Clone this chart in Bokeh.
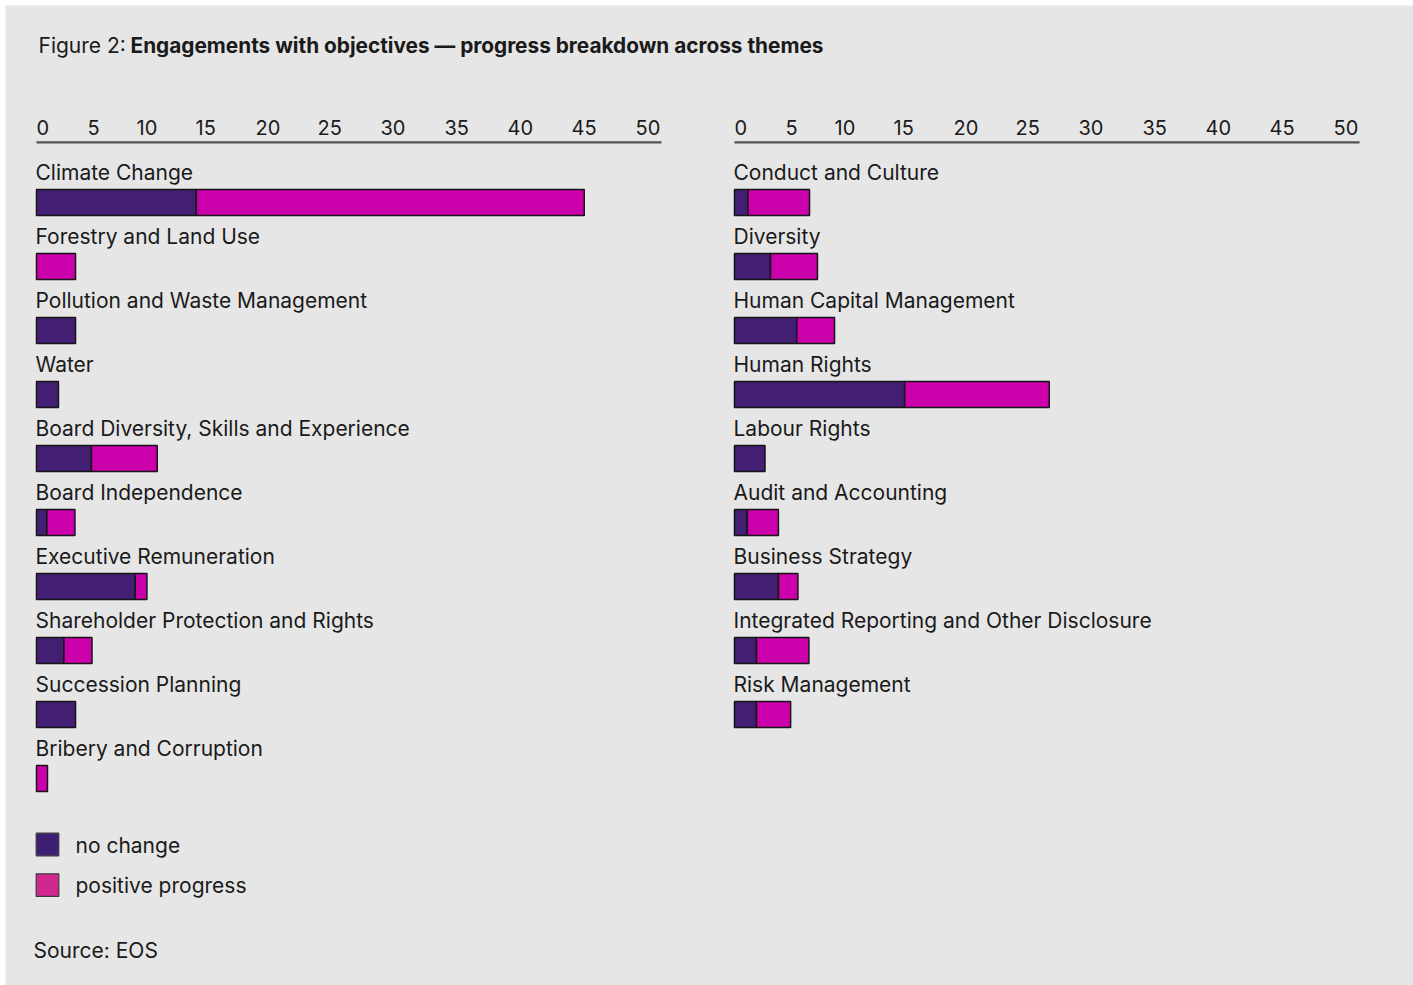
from bokeh.plotting import figure
from bokeh.models import Range1d, ColumnDataSource
from bokeh.core.properties import value
from bokeh.embed import file_html
from bokeh.resources import INLINE

# ---------------- data ----------------
left_themes = ["Climate Change", "Forestry and Land Use", "Pollution and Waste Management",
               "Water", "Board Diversity, Skills and Experience", "Board Independence",
               "Executive Remuneration", "Shareholder Protection and Rights",
               "Succession Planning", "Bribery and Corruption"]
left_no_change = [13.1, 0, 3.2, 1.8, 4.5, 0.85, 8.1, 2.25, 3.2, 0]
left_positive = [31.8, 3.2, 0, 0, 5.4, 2.3, 0.95, 2.3, 0, 0.9]

right_themes = ["Conduct and Culture", "Diversity", "Human Capital Management",
                "Human Rights", "Labour Rights", "Audit and Accounting",
                "Business Strategy", "Integrated Reporting and Other Disclosure",
                "Risk Management"]
right_no_change = [1.1, 2.95, 5.1, 13.95, 2.5, 1.05, 3.6, 1.8, 1.8]
right_positive = [5.05, 3.85, 3.1, 11.85, 0, 2.55, 1.6, 4.3, 2.8]

tick_labels = ["0", "5", "10", "15", "20", "25", "30", "35", "40", "45", "50"]
series_names = ["no change", "positive progress"]
bar_colors = ["#421f73", "#cc00aa"]
legend_colors = ["#3f1f73", "#d0288f"]

title_plain = "Figure 2:"
title_bold = "Engagements with objectives \u2014 progress breakdown across themes"
source_note = "Source: EOS"

# ---------------- layout / styles ----------------
W, H = 1413, 985
FONT = value("Inter")
TXT = "#1a1a1a"
PX_PER_UNIT = 12.2
ROW0, ROW_PITCH = 202, 64
BAR_H = 26
BASE_FIX = -8          # renderer baseline correction (px)
tick_left_px = [0, 51, 100, 159, 219, 281, 344, 408, 471, 535, 599]
AXIS_W = 625

p = figure(width=W, height=H, output_backend="svg", toolbar_location=None,
           x_range=Range1d(5, W), y_range=Range1d(H, 5),
           x_axis_type=None, y_axis_type=None,
           min_border_left=5, min_border_top=5, min_border_right=0, min_border_bottom=0)
p.background_fill_color = "#e6e6e6"
p.border_fill_color = "white"
p.outline_line_color = None

p.extra_y_ranges["rows"] = Range1d((H - ROW0) / ROW_PITCH, (5 - ROW0) / ROW_PITCH)

panels = [("L", 36, left_themes, left_no_change, left_positive),
          ("R", 734, right_themes, right_no_change, right_positive)]

for name, x0, themes, nc, pp in panels:
    p.extra_x_ranges[name] = Range1d((5 - x0) / PX_PER_UNIT, (W - x0) / PX_PER_UNIT)
    rows = list(range(len(themes)))
    # labels
    p.text(x=[0] * len(themes), y=rows, text=themes, x_range_name=name, y_range_name="rows",
           text_font=FONT, text_font_size="21px", text_color=TXT,
           text_baseline="alphabetic", text_align="left", x_offset=-1, y_offset=-22 + BASE_FIX)
    # bars
    nc_src = ColumnDataSource(dict(
        y=[r for r, v in zip(rows, nc) if v > 0],
        left=[0 for v in nc if v > 0],
        right=[v for v in nc if v > 0]))
    pp_src = ColumnDataSource(dict(
        y=[r for r, v in zip(rows, pp) if v > 0],
        left=[a for a, v in zip(nc, pp) if v > 0],
        right=[a + v for a, v in zip(nc, pp) if v > 0]))
    for src, col in ((nc_src, bar_colors[0]), (pp_src, bar_colors[1])):
        p.hbar(y="y", left="left", right="right", height=BAR_H / ROW_PITCH, source=src,
               x_range_name=name, y_range_name="rows",
               fill_color=col, line_color="#151515", line_width=1.5)
    # axis (labels spread like the original)
    p.text(x=[x0 + t for t in tick_left_px], y=[135 + BASE_FIX] * len(tick_labels), text=tick_labels,
           text_font=FONT, text_font_size="20px", text_color=TXT,
           text_baseline="alphabetic", text_align="left")
    p.segment(x0=[x0], y0=[141.8], x1=[x0 + AXIS_W], y1=[141.8], line_color="#505050", line_width=2.2)

# title
p.text(x=[38], y=[53.3 + BASE_FIX], text=[title_plain], text_font=FONT, text_font_size="21px",
       text_color=TXT, text_baseline="alphabetic")
p.text(x=[130], y=[53.3 + BASE_FIX], text=[title_bold], text_font=FONT, text_font_size="20.8px",
       text_font_style="bold", text_color=TXT, text_baseline="alphabetic")

# legend
p.rect(x=[47, 47], y=[844, 884.6], width=22.6, height=22.6, fill_color=legend_colors,
       line_color="#3a3a3a", line_width=1.2)
p.text(x=[75, 75], y=[853.3 + BASE_FIX, 893.3 + BASE_FIX], text=series_names, text_font=FONT,
       text_font_size="21px", text_color=TXT, text_baseline="alphabetic")

# source
p.text(x=[33], y=[957.5 + BASE_FIX], text=[source_note], text_font=FONT, text_font_size="21px",
       text_color=TXT, text_baseline="alphabetic")

open("out.html", "w").write(file_html(p, INLINE))
